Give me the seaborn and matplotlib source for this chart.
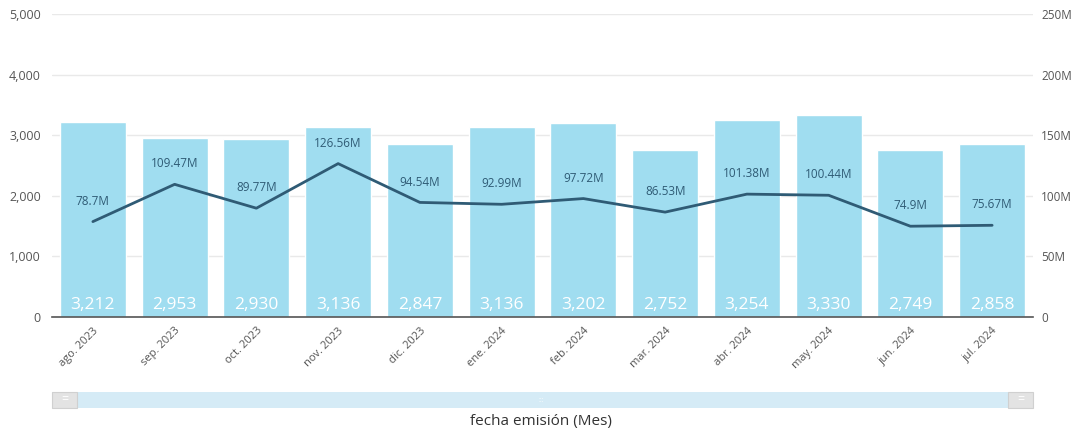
import numpy as np
import pandas as pd
import matplotlib
matplotlib.use('Agg')
import matplotlib.pyplot as plt
import seaborn as sns
from matplotlib.patches import Rectangle
from matplotlib.ticker import FuncFormatter, FixedLocator

# Data
meses = ['ago. 2023', 'sep. 2023', 'oct. 2023', 'nov. 2023', 'dic. 2023', 'ene. 2024',
         'feb. 2024', 'mar. 2024', 'abr. 2024', 'may. 2024', 'jun. 2024', 'jul. 2024']
conteo = [3212, 2953, 2930, 3136, 2847, 3136, 3202, 2752, 3254, 3330, 2749, 2858]
monto_m = [78.7, 109.47, 89.77, 126.56, 94.54, 92.99, 97.72, 86.53, 101.38, 100.44, 74.9, 75.67]

df = pd.DataFrame({'mes': meses, 'conteo': conteo, 'monto': monto_m})

sns.set_style('white')
plt.rcParams['font.family'] = ['Open Sans', 'DejaVu Sans']

bar_color = '#a0ddf0'
line_color = '#2f5b75'
text_color = '#555555'

fig = plt.figure(figsize=(10.73, 4.30), dpi=100)
ax = fig.add_axes([52 / 1073, 113 / 430, 981 / 1073, 303 / 430])

sns.barplot(data=df, x='mes', y='conteo', color=bar_color, width=0.81,
            saturation=1, ax=ax, zorder=2)
ax.set_ylim(0, 5000)
ax.set_xlim(-0.5, len(meses) - 0.5)
ax.set_yticks(range(0, 5001, 1000))
ax.yaxis.set_major_formatter(FuncFormatter(lambda v, p: f'{int(v):,}'))
ax.grid(axis='y', color='#e9e9e9', linewidth=1, zorder=0)
ax.set_axisbelow(True)
for s in ['top', 'right', 'left']:
    ax.spines[s].set_visible(False)
ax.spines['bottom'].set_color('#555555')
ax.spines['bottom'].set_linewidth(1.2)
ax.tick_params(axis='y', length=0, labelsize=9, labelcolor=text_color, pad=8)
ax.set_xlabel('')
ax.set_ylabel('')

# x tick labels at category centers, tick marks at boundaries
ax.set_xticks(range(len(meses)))
ax.set_xticklabels(meses, rotation=45, ha='right', rotation_mode='anchor',
                   fontsize=8, color=text_color)
ax.tick_params(axis='x', which='major', length=0, pad=6)
ax.xaxis.set_minor_locator(FixedLocator(np.arange(-0.5, len(meses), 1.0)))
ax.tick_params(axis='x', which='minor', length=5, width=1.2, color='#555555')

for i, v in enumerate(conteo):
    ax.annotate(f'{v:,}', xy=(i, 0), xytext=(0, 3), textcoords='offset points',
                ha='center', va='bottom', color='white', fontsize=12.5, zorder=5)

ax2 = ax.twinx()
sns.lineplot(data=df, x='mes', y='monto', sort=False, color=line_color,
             linewidth=2, ax=ax2, zorder=4)
ax2.set_ylim(0, 250)
ax2.set_yticks(range(0, 251, 50))
ax2.yaxis.set_major_formatter(FuncFormatter(lambda v, p: '0' if v == 0 else f'{int(v)}M'))
ax2.tick_params(axis='y', length=0, labelsize=8.5, labelcolor=text_color, pad=6)
for s in ['top', 'right', 'left', 'bottom']:
    ax2.spines[s].set_visible(False)
ax2.set_ylabel('')
ax2.set_xlabel('')

for i, v in enumerate(monto_m):
    ax2.annotate(f'{v:g}M', xy=(i, v), xytext=(0, 10), textcoords='offset points',
                 ha='center', va='bottom', color=line_color, fontsize=8.5)

# slider bar below the chart
fig.patches.append(Rectangle((52 / 1073, 22 / 430), 981 / 1073, 16 / 430,
                             transform=fig.transFigure, facecolor='#d5ebf6',
                             edgecolor='none'))
for x0 in (52, 1008):
    fig.patches.append(Rectangle((x0 / 1073, 22 / 430), 25 / 1073, 16 / 430,
                                 transform=fig.transFigure, facecolor='#e3e3e3',
                                 edgecolor='#d0d0d0', linewidth=0.8))
    fig.text((x0 + 12.5) / 1073, 30 / 430, '=', ha='center', va='center',
             color='white', fontsize=9)
fig.text(541 / 1073, 30 / 430, ':::', ha='center', va='center', color='white', fontsize=5)

fig.text(541 / 1073, 8 / 430, 'fecha emisión (Mes)', ha='center', va='center',
         color='#333333', fontsize=11)

fig.savefig('out.png', dpi=100)
